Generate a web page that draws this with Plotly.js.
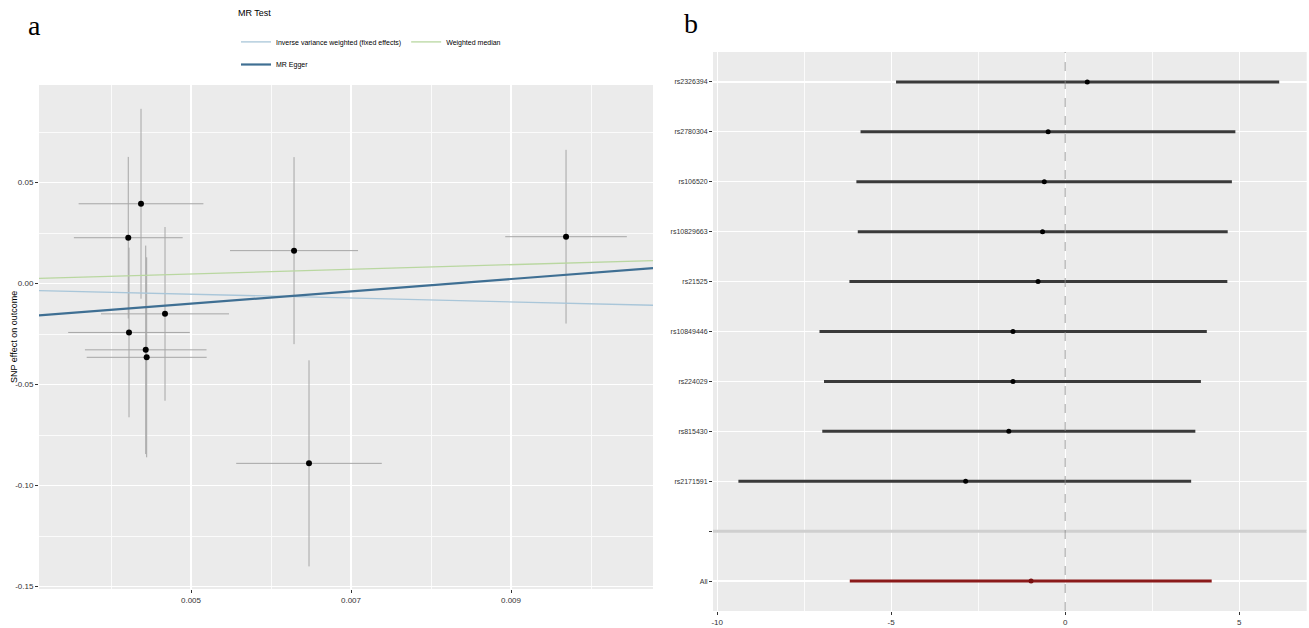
<!DOCTYPE html>
<html>
<head>
<meta charset="utf-8">
<script src="https://cdn.plot.ly/plotly-3.0.1.min.js"></script>
<style>html,body{margin:0;padding:0;background:#fff;}#chart{width:1309px;height:628px;}</style>
</head>
<body>
<div id="chart"></div>
<script>
// ---------- Panel a: MR scatter ----------
const xExposure = [0.004375, 0.004216, 0.004225, 0.004434, 0.004446, 0.004675, 0.006288, 0.006475, 0.009688];
const yOutcome  = [0.0395, 0.0227, -0.0242, -0.0328, -0.0365, -0.0150, 0.0163, -0.0890, 0.0232];
const seExposure = [0.00078, 0.00068, 0.00076, 0.00076, 0.00075, 0.00080, 0.00080, 0.00091, 0.00076];
const seOutcome  = [0.047, 0.040, 0.042, 0.0516, 0.0495, 0.043, 0.0463, 0.051, 0.043];

const mrMethods    = ['Inverse variance weighted (fixed effects)', 'Weighted median', 'MR Egger'];
const mrSlopes     = [-0.95, 1.15, 3.05];
const mrIntercepts = [-0.0005, -0.001, -0.0252];

const aXTickVals = [0.005, 0.007, 0.009];
const aXTickText = ['0.005', '0.007', '0.009'];
const aYTickVals = [0.05, 0.00, -0.05, -0.10, -0.15];
const aYTickText = ['0.05', '0.00', '-0.05', '-0.10', '-0.15'];

// ---------- Panel b: leave-one-out / forest ----------
const snpLabels = ['rs2326394', 'rs2780304', 'rs106520', 'rs10829663', 'rs21525', 'rs10849446', 'rs224029', 'rs815430', 'rs2171591'];
const snpBeta   = [0.635, -0.49, -0.60, -0.65, -0.78, -1.50, -1.50, -1.62, -2.86];
const snpLower  = [-4.86, -5.88, -6.00, -5.96, -6.20, -7.06, -6.93, -6.98, -9.39];
const snpUpper  = [6.15, 4.89, 4.79, 4.67, 4.66, 4.07, 3.90, 3.74, 3.62];
const allLabel = ['All'];
const allBeta  = [-0.98];
const allLower = [-6.19];
const allUpper = [4.21];
const blankLabel = ' ';
const bXTickVals = [-10, -5, 0, 5];
const bXTickText = ['-10', '-5', '0', '5'];

// ---------- geometry ----------
const W = 1309, H = 628;
const aXRange = [0.0031, 0.010775];
const aYRange = [-0.1512, 0.0983];
const bXRange = [-10.12, 6.94];

const styleA = {
  'Inverse variance weighted (fixed effects)': {color: '#a9c6d9', width: 1.3, legend: 'legend'},
  'Weighted median': {color: '#b9d7a0', width: 1.3, legend: 'legend'},
  'MR Egger': {color: '#3f6f93', width: 2.2, legend: 'legend2'}
};

const traces = [];

// error bars + points, panel a
traces.push({
  type: 'scatter', mode: 'markers', xaxis: 'x', yaxis: 'y',
  x: xExposure, y: yOutcome, showlegend: false,
  marker: {color: '#000', size: 6},
  error_x: {type: 'data', array: seExposure, visible: true, color: '#a6a6a6', thickness: 1, width: 0},
  error_y: {type: 'data', array: seOutcome, visible: true, color: '#a6a6a6', thickness: 1, width: 0}
});

// regression lines, panel a
mrMethods.forEach((m, i) => {
  const st = styleA[m];
  traces.push({
    type: 'scatter', mode: 'lines', xaxis: 'x', yaxis: 'y',
    x: aXRange, y: aXRange.map(v => mrIntercepts[i] + mrSlopes[i] * v),
    name: m, legend: st.legend, showlegend: true,
    line: {color: st.color, width: st.width}
  });
});

// panel b separator row
traces.push({
  type: 'scatter', mode: 'lines', xaxis: 'x2', yaxis: 'y2',
  x: bXRange, y: [blankLabel, blankLabel], showlegend: false,
  line: {color: '#cfcfcf', width: 3}, hoverinfo: 'skip'
});

// SNP rows
traces.push({
  type: 'scatter', mode: 'markers', xaxis: 'x2', yaxis: 'y2',
  x: snpBeta, y: snpLabels, showlegend: false,
  marker: {color: '#000', size: 5},
  error_x: {type: 'data', symmetric: false,
    array: snpUpper.map((u, i) => u - snpBeta[i]),
    arrayminus: snpBeta.map((b, i) => b - snpLower[i]),
    color: '#3a3a3a', thickness: 3, width: 0}
});

// All row
traces.push({
  type: 'scatter', mode: 'markers', xaxis: 'x2', yaxis: 'y2',
  x: allBeta, y: allLabel, showlegend: false,
  marker: {color: '#7a1010', size: 5},
  error_x: {type: 'data', symmetric: false,
    array: allUpper.map((u, i) => u - allBeta[i]),
    arrayminus: allBeta.map((b, i) => b - allLower[i]),
    color: '#8b1a1a', thickness: 3, width: 0}
});

const tickFont = {family: 'Liberation Sans, Arial, sans-serif', size: 8, color: '#333'};

const layout = {
  width: W, height: H,
  margin: {l: 0, r: 0, t: 0, b: 0},
  paper_bgcolor: '#ffffff',
  plot_bgcolor: '#ebebeb',
  font: {family: 'Liberation Sans, Arial, sans-serif', size: 8, color: '#000'},
  xaxis: {
    domain: [39 / W, 653 / W], range: aXRange, anchor: 'y',
    tickvals: aXTickVals, ticktext: aXTickText,
    showgrid: true, gridcolor: '#ffffff', gridwidth: 1.2, zeroline: false, showline: false,
    ticks: 'outside', ticklen: 3, tickcolor: '#333', tickfont: tickFont,
    minor: {tick0: 0.004, dtick: 0.002, showgrid: true, gridcolor: '#fbfbfb', gridwidth: 1}
  },
  yaxis: {
    domain: [1 - 589 / H, 1 - 85 / H], range: aYRange, anchor: 'x',
    tickvals: aYTickVals, ticktext: aYTickText,
    showgrid: true, gridcolor: '#ffffff', gridwidth: 1.2, zeroline: false, showline: false,
    ticks: 'outside', ticklen: 3, tickcolor: '#333', tickfont: tickFont,
    minor: {tick0: 0.025, dtick: 0.05, showgrid: true, gridcolor: '#fbfbfb', gridwidth: 1}
  },
  xaxis2: {
    domain: [713 / W, 1306.7 / W], range: bXRange, anchor: 'y2',
    tickvals: bXTickVals, ticktext: bXTickText,
    showgrid: true, gridcolor: '#ffffff', gridwidth: 1.2, zeroline: false, showline: false,
    ticks: 'outside', ticklen: 3, tickcolor: '#333', tickfont: tickFont,
    minor: {tick0: -7.5, dtick: 5, showgrid: true, gridcolor: '#fbfbfb', gridwidth: 1}
  },
  yaxis2: {
    domain: [1 - 611 / H, 1 - 52 / H], anchor: 'x2',
    type: 'category', categoryorder: 'array',
    categoryarray: snpLabels.concat([blankLabel], allLabel),
    range: [10.6, -0.6],
    showgrid: true, gridcolor: '#ffffff', gridwidth: 1.2, zeroline: false, showline: false,
    ticks: 'outside', ticklen: 3, tickcolor: '#333',
    tickfont: {family: 'Liberation Sans, Arial, sans-serif', size: 7, color: '#333'}
  },
  shapes: [{
    type: 'line', xref: 'x2', yref: 'y2 domain', x0: 0, x1: 0, y0: 0, y1: 1,
    line: {color: '#8a8a8a', width: 0.8, dash: 'dash'}, layer: 'above'
  }],
  legend: {
    x: 236 / W, y: 1 - 4 / H, xanchor: 'left', yanchor: 'top',
    orientation: 'h', bgcolor: 'rgba(0,0,0,0)',
    title: {text: 'MR Test<br> ', side: 'top', font: {size: 9, color: '#000'}},
    font: {size: 7, color: '#000'}, itemwidth: 30
  },
  legend2: {
    x: 236 / W, y: 1 - 50 / H, xanchor: 'left', yanchor: 'top',
    orientation: 'h', bgcolor: 'rgba(0,0,0,0)',
    font: {size: 7, color: '#000'}, itemwidth: 30
  },
  annotations: [
    {text: 'a', xref: 'paper', yref: 'paper', x: 26 / W, y: 1 - 8 / H, xanchor: 'left', yanchor: 'top',
     showarrow: false, font: {family: 'Liberation Serif, Times New Roman, serif', size: 28, color: '#000'}},
    {text: 'b', xref: 'paper', yref: 'paper', x: 682 / W, y: 1 - 6 / H, xanchor: 'left', yanchor: 'top',
     showarrow: false, font: {family: 'Liberation Serif, Times New Roman, serif', size: 28, color: '#000'}},
    {text: 'SNP effect on outcome', xref: 'paper', yref: 'paper', x: 14 / W, y: 1 - 337 / H,
     xanchor: 'center', yanchor: 'middle', textangle: -90, showarrow: false,
     font: {family: 'Liberation Sans, Arial, sans-serif', size: 9, color: '#000'}}
  ]
};

Plotly.newPlot('chart', traces, layout, {displayModeBar: false, staticPlot: true});
</script>
</body>
</html>
